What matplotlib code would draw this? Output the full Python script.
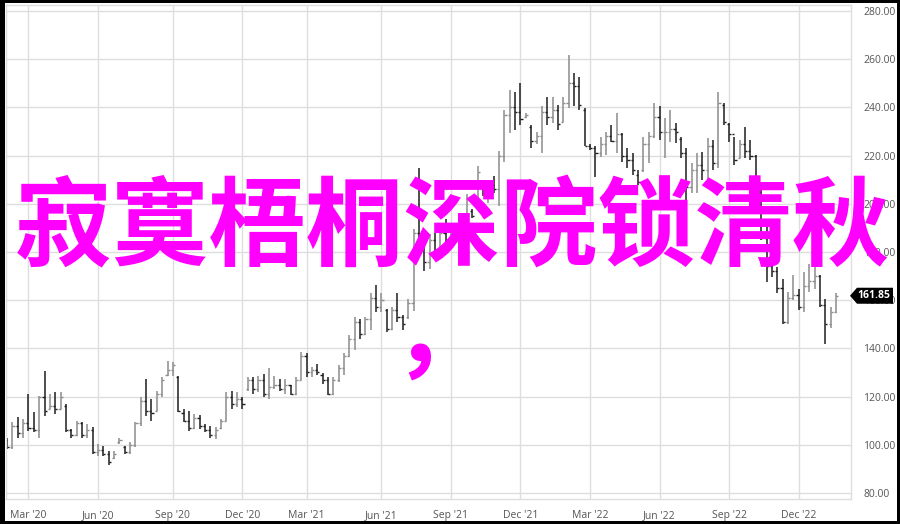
import matplotlib
matplotlib.use("Agg")
import matplotlib.pyplot as plt
from matplotlib.patches import Rectangle, Polygon
from matplotlib.transforms import IdentityTransform

# weekly OHLC (Feb 2020 .. Jan 2023)
high = [102.7, 109.3, 111.4, 110.7, 121, 113.4, 120.4, 130.7, 121, 122,
        121.7, 116.9, 106.5, 110, 109.3, 108.6, 107.2, 100.3, 99.6, 97.5,
        97.5, 103, 99.6, 101, 109.3, 119.7, 127.3, 119, 122.4, 128,
        134.9, 134.2, 128.7, 114.8, 114, 112.8, 112.3, 108.6, 107.9, 107.2,
        110.7, 121.7, 122.4, 121.7, 119.7, 128, 128, 128.7, 129.4, 132,
        128.7, 127.3, 127.3, 125, 128, 138.6, 137.9, 132.3, 133.7, 129.6,
        128.2, 128.2, 133, 137.9, 145.5, 153.1, 152.4, 153.1, 162.8, 166.2,
        162.8, 156.5, 157.2, 162.8, 153.8, 160.7, 189.4, 215, 185.2, 187.3,
        188, 190.7, 193.5, 192.1, 190.7, 187.3, 204, 198, 215.6, 208.7,
        210, 211.5, 221.9, 239, 247.3, 246.6, 250, 237.6, 232.8, 230,
        240.4, 244.5, 244.5, 241, 244.5, 261.8, 254.2, 252.8, 239.7, 225,
        223.8, 227.9, 230, 232.8, 237.6, 229.3, 223, 221, 214, 227.9,
        230, 241.7, 240.4, 235.5, 239, 233.4, 227.9, 223, 216.8, 221,
        221.7, 227.2, 226.5, 246.6, 241.7, 233.4, 227.9, 226.5, 232, 226.5,
        220.3, 206, 192, 181, 173.8, 169, 163.4, 170.3, 164.8, 171.7,
        175, 176, 170.3, 160.7, 157.2, 162.8]
low = [98.3, 98.2, 103, 103, 105.8, 105.4, 103, 112, 114.8, 112.8,
       114.8, 105.1, 103, 103.8, 103, 103, 96.2, 95.5, 95.5, 91.6,
       94, 100.3, 96.2, 96.2, 99, 108, 112, 110, 114, 119.7,
       128.7, 128.7, 113.4, 109.3, 105.8, 106.5, 106.5, 105.1, 103, 102.4,
       106.5, 110, 114.8, 115.5, 114.8, 122.4, 121, 121.7, 119.7, 119,
       123.1, 122.4, 121, 120.6, 120.6, 126.8, 128.2, 128.2, 128.9, 125.4,
       120.6, 120.6, 126.1, 128.9, 136.5, 139.3, 144.1, 145.5, 147.6, 155.2,
       155.2, 146.9, 147.6, 151, 147.6, 152.4, 155.5, 181, 172, 172.8,
       177, 179.7, 182.4, 183.8, 185.2, 181, 190.7, 194, 201.8, 203.2,
       200.4, 204.6, 199, 217.5, 229.3, 230.7, 232.8, 235.5, 223, 225,
       221, 232.8, 233.4, 230.7, 234.1, 239.7, 240.4, 239, 223.8, 222.4,
       211.3, 219.6, 220.3, 225.8, 221, 217.5, 214.8, 212, 207.9, 213.4,
       216.8, 227.2, 226.5, 218.9, 225.8, 225.1, 218.9, 199.6, 204.4, 204.4,
       210, 208.5, 214, 214.8, 232.8, 225.8, 216.2, 218.9, 218.9, 218.2,
       209.3, 185, 167.6, 169.7, 162.8, 150.3, 150.3, 160, 155.9, 155.2,
       163.4, 164.8, 157.2, 142, 148.3, 154.5]
opn = [102, 99, 108, 105, 109, 107, 106, 120, 115, 116,
       115, 116, 106, 104, 109, 104, 106, 97, 98, 96,
       94.5, 101, 99, 97, 100, 109, 118, 114, 114, 121,
       129, 131, 128, 113, 110, 107, 111, 108, 106, 104,
       107, 110, 120, 117, 119, 123, 127, 123, 127, 121,
       124, 125, 123, 125, 121, 127, 137, 130, 131, 129,
       127, 121, 127, 132, 137, 144, 151, 146, 152, 161,
       157, 156, 148, 156, 153, 153, 159, 188, 183, 176,
       185, 180, 188, 185, 190, 187, 191, 197, 202, 208,
       205, 208, 206, 220, 237, 240, 238, 236, 232, 226,
       228, 238, 236, 239, 234, 242, 250, 249, 239, 224,
       223, 221, 225, 228, 226, 229, 220, 218, 212, 214,
       225, 228, 236, 230, 230, 231, 227, 221, 207, 214,
       216, 214, 224, 217, 241, 233, 229, 219, 225, 222,
       220, 205, 186, 174, 172, 165, 151, 161, 162, 157,
       166, 168, 170, 158, 150, 155]
close = [99, 108, 105, 109, 107, 106, 120, 114, 116, 115,
         120, 106, 104, 109, 104, 106, 97, 98, 96, 93,
         96, 102, 97, 100, 109, 118, 114, 113, 121, 127,
         131, 133, 114, 110, 107, 111, 108, 106, 104, 106,
         110, 120, 117, 119, 117, 127, 123, 127, 121, 124,
         125, 123, 125, 121, 127, 137, 130, 131, 130, 127,
         121, 127, 132, 137, 144, 151, 146, 152, 161, 157,
         160, 148, 156, 153, 150, 159, 188, 183, 176, 185,
         180, 188, 185, 190, 187, 186, 202, 195, 213, 205,
         208, 206, 220, 237, 240, 238, 235, 237, 226, 228,
         238, 236, 239, 233, 242, 250, 249, 241, 224, 223,
         221, 225, 228, 226, 229, 220, 218, 214, 209, 225,
         228, 236, 230, 230, 231, 230, 221, 207, 214, 216,
         214, 224, 217, 242, 234, 229, 218, 225, 222, 220,
         211, 186, 174, 172, 165, 151, 161, 162, 157, 166,
         168, 170, 158, 150, 155, 161.85]

tick_pos = [4, 17, 31, 44, 56, 70, 83, 96, 109, 122, 135, 148]
tick_lbl = ["Mar '20", "Jun '20", "Sep '20", "Dec '20", "Mar '21", "Jun '21",
            "Sep '21", "Dec '21", "Mar '22", "Jun '22", "Sep '22", "Dec '22"]
y_ticks = [80, 100, 120, 140, 160, 180, 200, 220, 240, 260, 280]
last_price = 161.85
title = "寂寞梧桐深院锁清秋"

W, H = 900, 524
fig = plt.figure(figsize=(W / 100, H / 100), dpi=100)
ax = fig.add_axes([6 / W, 25 / H, 845 / W, 494 / H])

grid_c = "#dedede"
n = len(high)
for i in range(n):
    c = "#1e1e1e" if close[i] < opn[i] else "#8c8c8c"
    ax.vlines(i, low[i], high[i], color=c, lw=1.1)
    ax.hlines(opn[i], i - 0.4, i, color=c, lw=1.0)
    ax.hlines(close[i], i, i + 0.4, color=c, lw=1.0)

ax.set_xlim(-0.2, 157.8)
ax.set_ylim(77.5, 282.5)
ax.set_xticks(tick_pos)
ax.set_xticklabels(tick_lbl)
ax.set_yticks(y_ticks)
ax.set_yticklabels(["%.2f" % v for v in y_ticks])
ax.yaxis.tick_right()
ax.tick_params(axis="both", length=0, labelsize=7.5, labelcolor="#555555")
ax.tick_params(axis="y", pad=9)
ax.tick_params(axis="x", pad=8)
for lab in ax.get_xticklabels() + ax.get_yticklabels():
    lab.set_fontfamily("Open Sans")
ax.grid(True, color=grid_c, lw=1.0)
ax.set_axisbelow(True)
for s in ax.spines.values():
    s.set_color(grid_c)
    s.set_linewidth(1.0)

# last price tag
fig.canvas.draw()
py = ax.transData.transform((0, last_price))[1]
x0 = 850
tag = Polygon([[x0, py], [x0 + 7, py + 8], [x0 + 43, py + 8],
               [x0 + 43, py - 8], [x0 + 7, py - 8]], closed=True,
              fc="black", ec="none", transform=IdentityTransform())
fig.patches.append(tag)
fig.text((x0 + 24) / W, py / H, "%.2f" % last_price, color="white",
         fontsize=7.5, fontweight="bold", family="Open Sans",
         ha="center", va="center")

# overlay text
fig.text(452 / W, 1 - 230 / H, title, color="#ff00ff", fontsize=70,
         fontweight="bold", family=["Noto Sans CJK SC", "DejaVu Sans"],
         ha="center", va="center")
fig.text(441 / W, 1 - 338 / H, "，", color="#ff00ff", fontsize=70,
         fontweight="bold", family=["Noto Sans CJK SC", "DejaVu Sans"],
         ha="center", va="center")

# black frame around the screenshot
for (x, y, w, h) in [(0, 0, 5, H), (0, 0, W, 3), (W - 3, 0, 3, H), (0, H - 3, W, 3)]:
    fig.patches.append(Rectangle((x / W, y / H), w / W, h / H, fc="black",
                                 ec="none", transform=fig.transFigure))

fig.savefig("out.png", dpi=100)
